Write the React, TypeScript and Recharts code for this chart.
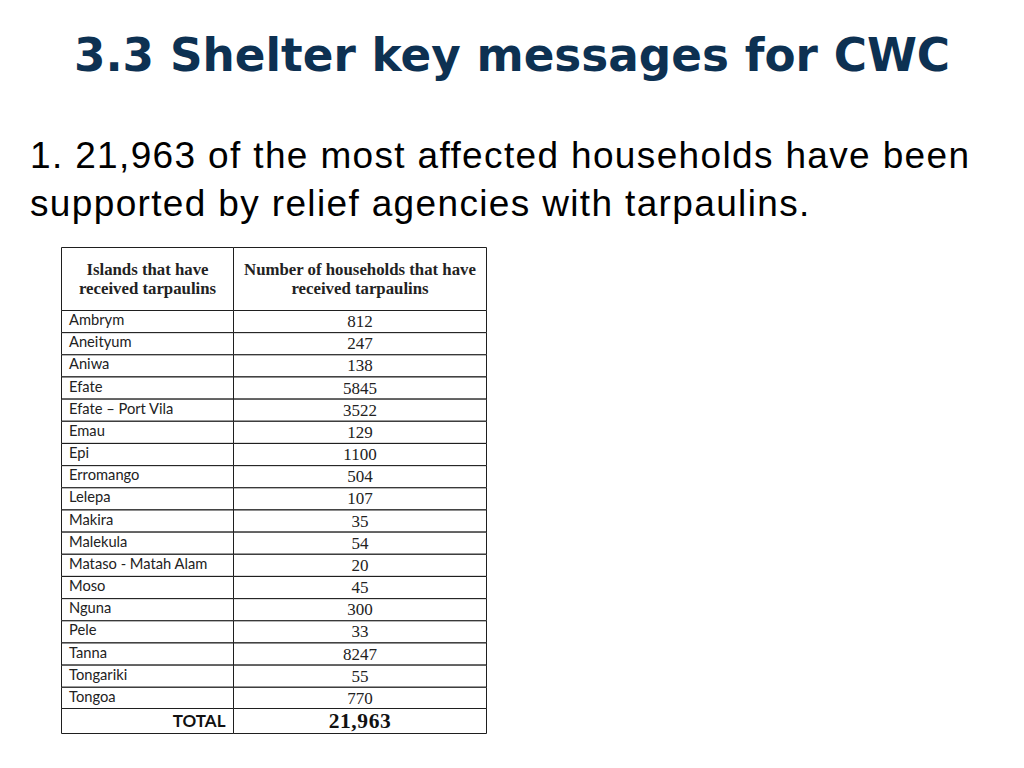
import { Bar, BarChart, LabelList, XAxis, YAxis } from "recharts";

// Table rows
const islands = [
  "Ambrym",
  "Aneityum",
  "Aniwa",
  "Efate",
  "Efate – Port Vila",
  "Emau",
  "Epi",
  "Erromango",
  "Lelepa",
  "Makira",
  "Malekula",
  "Mataso - Matah Alam",
  "Moso",
  "Nguna",
  "Pele",
  "Tanna",
  "Tongariki",
  "Tongoa",
];
const households = [
  812, 247, 138, 5845, 3522, 129, 1100, 504, 107, 35, 54, 20, 45, 300, 33, 8247,
  55, 770,
];
const headerLines = [
  ["Islands that have", "received tarpaulins"],
  ["Number of households that have", "received tarpaulins"],
];
const totalLabel = "TOTAL";
const totalValue = "21,963";

const COL1 = 172;
const COL2 = 253;
const TABLE_W = COL1 + COL2;
const BORDER = "#1f1f1f";
const NAME_FONT = "Lato, 'Open Sans', sans-serif";
const NUM_FONT = "'Liberation Serif', 'DejaVu Serif', serif";

type Cell = { x: number; y: number; width: number; height: number; value?: unknown };

function box(p: any): Cell {
  const vb = p.viewBox ?? p;
  return { x: vb.x, y: vb.y, width: vb.width, height: vb.height, value: p.value };
}

const margin = { top: 0.5, right: 0.5, bottom: 0.5, left: 0.5 };

function TableChart({
  rows,
  height,
  nameLabel,
  valueLabel,
}: {
  rows: Record<string, unknown>[];
  height: number;
  nameLabel: (p: any) => React.ReactNode;
  valueLabel: (p: any) => React.ReactNode;
}) {
  return (
    <BarChart
      width={TABLE_W + 1}
      height={height}
      data={rows}
      layout="vertical"
      margin={margin}
      barCategoryGap={0}
      barGap={0}
    >
      <XAxis type="number" hide domain={[0, TABLE_W]} />
      <YAxis type="category" dataKey="key" hide />
      <Bar
        dataKey="nameCol"
        stackId="t"
        fill="#fff"
        stroke={BORDER}
        strokeWidth={1}
        isAnimationActive={false}
      >
        <LabelList dataKey="name" content={nameLabel} />
      </Bar>
      <Bar
        dataKey="valueCol"
        stackId="t"
        fill="#fff"
        stroke={BORDER}
        strokeWidth={1}
        isAnimationActive={false}
      >
        <LabelList dataKey="value" content={valueLabel} />
      </Bar>
    </BarChart>
  );
}

const headerRows = [
  { key: "h", name: 0, value: 1, nameCol: COL1, valueCol: COL2 },
];
const bodyRows = islands.map((name, i) => ({
  key: name,
  name,
  value: households[i],
  nameCol: COL1,
  valueCol: COL2,
}));
const totalRows = [
  { key: "t", name: totalLabel, value: totalValue, nameCol: COL1, valueCol: COL2 },
];

function headerLabel(p: any) {
  const c = box(p);
  const lines = headerLines[Number(c.value)];
  const cx = c.x + c.width / 2;
  const cy = c.y + c.height / 2;
  return (
    <text
      x={cx}
      y={cy}
      textAnchor="middle"
      fontFamily={NUM_FONT}
      fontWeight="bold"
      fontSize={16.8}
      fill="#222"
    >
      <tspan x={cx} dy={-4}>
        {lines[0]}
      </tspan>
      <tspan x={cx} dy={19}>
        {lines[1]}
      </tspan>
    </text>
  );
}

function islandLabel(p: any) {
  const c = box(p);
  return (
    <text
      x={c.x + 7.5}
      y={c.y + c.height / 2 + 3.5}
      fontFamily={NAME_FONT}
      fontSize={14.7}
      fill="#222"
    >
      {String(c.value)}
    </text>
  );
}

function countLabel(p: any) {
  const c = box(p);
  return (
    <text
      x={c.x + c.width / 2}
      y={c.y + c.height / 2 + 5.5}
      textAnchor="middle"
      fontFamily={NUM_FONT}
      fontSize={17}
      fill="#222"
    >
      {String(c.value)}
    </text>
  );
}

function totalNameLabel(p: any) {
  const c = box(p);
  return (
    <text
      x={c.x + c.width - 8}
      y={c.y + c.height / 2 + 5.5}
      textAnchor="end"
      fontFamily={NAME_FONT}
      fontWeight="bold"
      fontSize={17}
      fill="#111"
    >
      {String(c.value)}
    </text>
  );
}

function totalValueLabel(p: any) {
  const c = box(p);
  return (
    <text
      x={c.x + c.width / 2}
      y={c.y + c.height / 2 + 7}
      textAnchor="middle"
      fontFamily={NUM_FONT}
      fontWeight="bold"
      fontSize={21.5}
      letterSpacing={0.6}
      fill="#111"
    >
      {String(c.value)}
    </text>
  );
}

export default function App() {
  return (
    <div
      style={{
        position: "absolute",
        left: 0,
        top: 0,
        width: 1024,
        height: 768,
        background: "#fff",
        overflow: "hidden",
      }}
    >
      <div
        style={{
          position: "absolute",
          left: 0,
          top: 24,
          width: 1024,
          textAlign: "center",
          fontFamily: "'DejaVu Sans', Verdana, sans-serif",
          fontWeight: "bold",
          fontSize: 45.3,
          color: "#0d3152",
          lineHeight: "64px",
        }}
      >
        3.3 Shelter key messages for CWC
      </div>
      <div
        style={{
          position: "absolute",
          left: 30,
          top: 132,
          width: 990,
          fontFamily: "'Liberation Sans', Arial, sans-serif",
          fontSize: 37,
          letterSpacing: 1.35,
          whiteSpace: "nowrap",
          color: "#000",
          lineHeight: "48px",
        }}
      >
        1. 21,963 of the most affected households have been
        <br />
        supported by relief agencies with tarpaulins.
      </div>
      <div style={{ position: "absolute", left: 60.5, top: 246.5 }}>
        <TableChart
          rows={headerRows}
          height={64}
          nameLabel={headerLabel}
          valueLabel={headerLabel}
        />
      </div>
      <div style={{ position: "absolute", left: 60.5, top: 309.5 }}>
        <TableChart
          rows={bodyRows}
          height={400}
          nameLabel={islandLabel}
          valueLabel={countLabel}
        />
      </div>
      <div style={{ position: "absolute", left: 60.5, top: 707.5 }}>
        <TableChart
          rows={totalRows}
          height={26}
          nameLabel={totalNameLabel}
          valueLabel={totalValueLabel}
        />
      </div>
    </div>
  );
}
